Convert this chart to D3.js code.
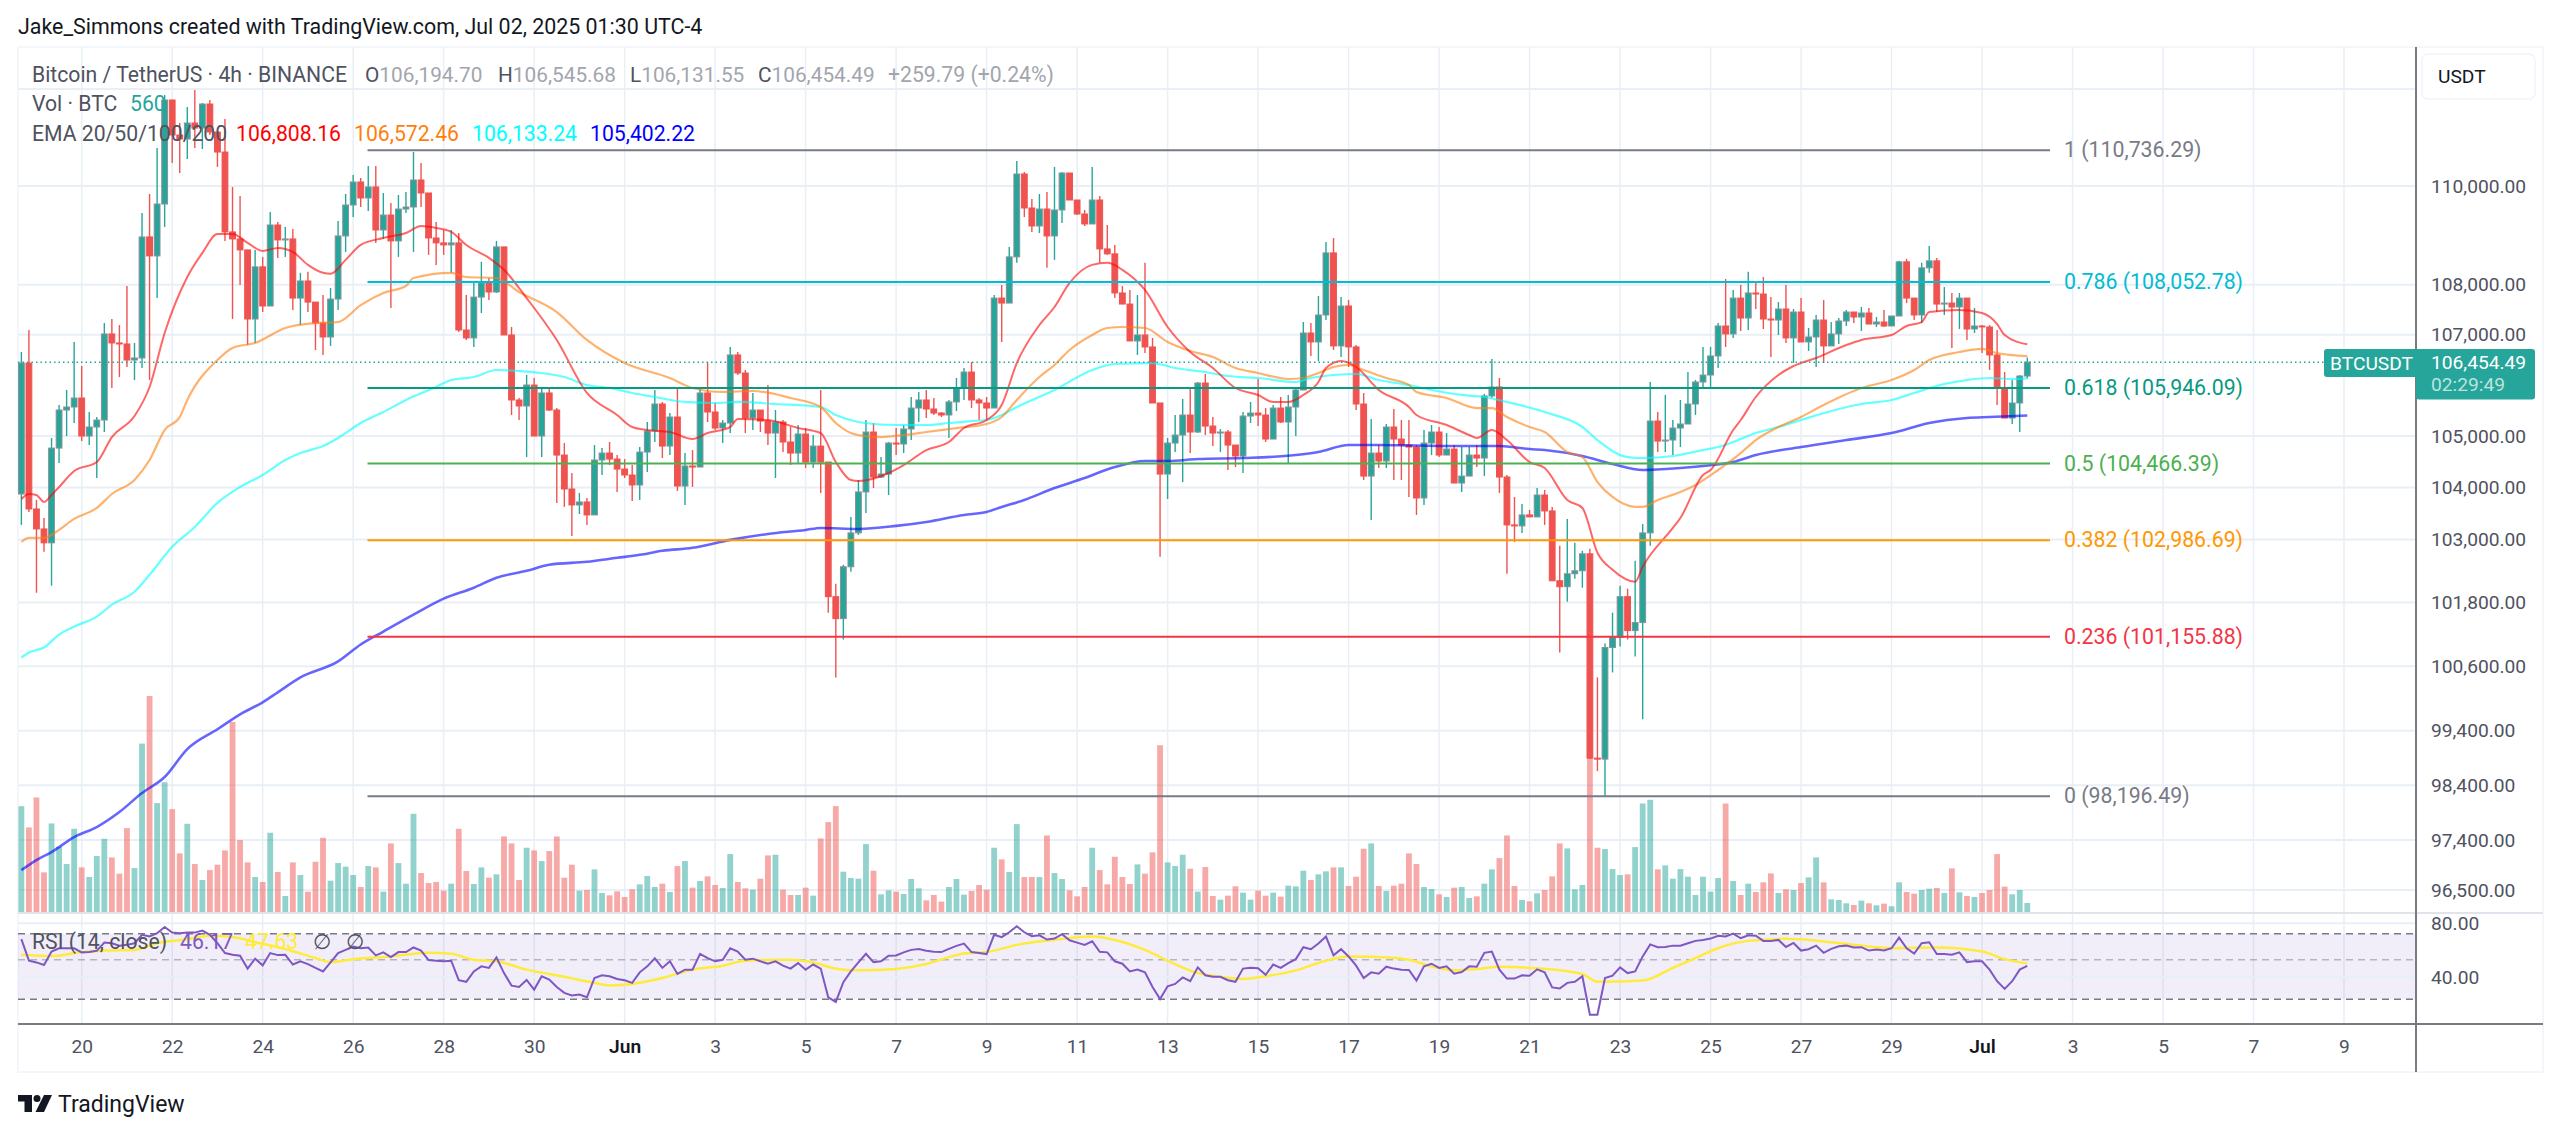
<!DOCTYPE html>
<html>
<head>
<meta charset="utf-8">
<title>BTCUSDT 4h</title>
<script src="https://cdn.jsdelivr.net/npm/d3@7"></script>
<style>
  html, body { margin: 0; padding: 0; background: #fff; }
  text { font-family: Roboto, "Noto Sans", sans-serif; }
</style>
</head>
<body>
<div id="chart"></div>
<script>
// 4h candles, first one sits 8 bars before May 20 00:00
var firstBar = -8;
var firstOpen = 103876;

var closes = [
  106437,103587,103203,102936,104767,105511,105570,105747,105002,105178,
  105315,107014,106835,106815,106497,106537,108963,108579,109632,111774,
  111048,110966,111296,111192,111690,111110,110697,109064,108922,108700,
  107312,108358,107572,109205,108902,108922,107731,108074,107651,107232,
  106954,107711,108983,109612,110082,109755,109980,109104,109408,108882,
  109530,109571,110123,109857,108942,108842,108801,108842,107093,106935,
  107751,108034,107853,108761,106994,105708,105590,106003,105002,105846,
  105511,104631,103972,103664,103722,103472,104534,104670,104553,104359,
  104243,104050,104689,105100,105629,104806,105374,104030,104418,104398,
  105846,105472,105158,105256,106597,106240,105354,105511,105295,105060,
  105276,104885,104670,105041,104495,104806,104495,101911,101496,102479,
  103127,103915,105080,104204,104262,104865,104846,105139,105550,105708,
  105531,105452,105413,105669,105944,106259,105708,105649,105550,107731,
  107631,108559,110246,109551,109185,109530,108983,109510,110266,109714,
  109429,109226,109714,108720,108620,107833,107611,106875,106994,106756,
  105649,104262,104865,105021,105413,105080,106042,105197,105060,105080,
  104826,104612,105393,105452,105413,104943,105550,105276,105570,105905,
  107033,106855,107392,108640,106776,107572,106756,105629,104223,104670,
  104515,105178,104943,104826,104787,103799,104865,105080,104631,104748,
  104088,104223,104631,104573,105787,105964,104204,103280,103261,103472,
  103434,103856,103549,102213,102100,102346,102403,102727,98896,98878,
  100952,101139,101911,101270,101421,103127,105295,104904,104924,105158,
  105237,105629,106062,106200,106577,107173,107014,107731,107332,107833,
  107812,107312,107292,107512,106935,107452,106855,106954,107292,106776,
  107014,107272,107452,107352,107432,107212,107252,107173,107372,108459,
  107731,107392,108338,108479,107611,107631,107552,107731,107113,107173,
  107153,106597,105944,105354,105649,106180,106454
];

var highs = [
  106656,107093,103760,103414,104963,105610,105905,106855,106378,105472,
  105374,107232,107312,107192,107973,106835,109449,109836,110780,111878,
  111774,111296,111628,111982,111711,111774,111110,111379,109980,109796,
  108700,108700,108559,109469,109266,109165,109124,108238,108258,107651,
  107792,107933,109287,109836,110225,110164,110410,110410,109857,109653,
  109816,109877,110697,110471,109857,109266,109104,109104,109043,107792,
  108054,108459,108134,108882,108761,107153,105747,106200,106141,105964,
  105964,105550,104865,104282,103895,103799,104826,104767,104885,104631,
  104553,104437,104787,105276,105905,105669,105452,105944,104670,104728,
  105944,106457,105649,105315,106756,106656,106299,105846,105511,106003,
  105511,105315,105178,105217,105158,105021,105905,104495,102156,102517,
  103434,104146,105315,105256,104592,104885,105158,105217,105767,105866,
  105905,105747,105472,105708,106141,106339,106457,105747,105767,107792,
  107993,108761,110512,110287,109734,109836,109877,110389,110287,110266,
  109714,109510,110389,109796,109205,108801,107973,107893,107792,108439,
  106935,105649,104963,105413,105728,105944,106062,106220,105374,105139,
  105119,104826,105472,105669,106121,105550,105610,105767,105807,105964,
  107252,107232,107771,108862,108942,107751,107691,106795,105846,105335,
  104826,105237,105531,105315,105315,104826,105119,105217,105178,105060,
  104826,104787,104787,104826,105826,106517,106141,104243,103818,103683,
  103568,103992,103953,103626,102879,103395,102936,102784,102822,100392,
  101027,101609,102119,102062,102593,103299,106062,105472,105807,105315,
  105708,106259,106101,106756,106756,107232,108114,107893,107993,108258,
  108054,108154,107751,107651,107993,107512,107731,107133,107392,107691,
  107252,107332,107492,107452,107552,107532,107352,107492,107372,108479,
  108519,107731,108439,108781,108539,107953,107833,107833,107731,107532,
  107192,107192,107093,106259,106101,106200,106545
];

var lows = [
  103280,103530,101986,102765,102119,104476,105002,105256,104904,104826,
  104185,105080,105944,106160,106358,106101,106339,106101,107731,109165,
  110471,110266,110553,110780,110759,111048,110389,108882,107312,107993,
  106795,106835,107452,107572,108539,108559,107492,107192,107452,106696,
  106597,106776,107492,108660,109367,109571,109490,108842,108922,107532,
  108559,109449,108660,109571,108600,108398,108600,108238,107053,106895,
  106756,107432,107691,107833,106994,105413,105315,104592,105002,104592,
  105491,103702,103626,103069,103491,103280,103472,104243,104437,103915,
  104185,103741,103760,104301,104885,104573,104631,103934,103664,104011,
  104398,105276,105119,104865,105060,106200,105060,105119,105080,104826,
  104185,104689,104437,104476,104379,104379,103895,101609,100392,101102,
  102384,103088,103510,103992,104185,103856,104631,104670,104924,105276,
  105354,105413,105374,104963,105491,105708,105550,105315,105315,105550,
  106855,107631,108439,109367,109064,109043,108338,108499,109246,109714,
  109408,109185,109246,108439,108600,107731,107611,106875,106597,106636,
  105649,102670,103779,104689,104107,104670,105060,105021,104806,104689,
  104340,104398,104282,105256,105197,104885,104943,105256,104476,105002,
  105905,106577,106477,107292,106696,106557,106358,105511,104146,103376,
  104379,104379,104146,104146,103818,103472,103664,104631,104592,104631,
  104088,103915,104223,104398,104223,105747,103895,102346,102955,103127,
  103434,103434,103280,102213,100858,101816,102251,102081,98878,98658,
  98196,100485,100970,101102,100783,99614,102879,104689,104689,104631,
  104787,105237,105413,105964,105964,106339,106756,106935,107073,107093,
  107512,107113,106557,106994,106835,106437,106855,106676,106358,106437,
  106795,106815,107173,107232,107073,107212,107153,107153,107173,107392,
  107631,107292,107232,108238,107452,107392,106736,107113,106895,107033,
  106636,106299,105610,105354,105237,105080,106131
];

var volumes = [
  6380,5100,6900,2400,5340,3940,2900,5020,2700,2120,
  3380,4420,3300,2320,5060,2660,10140,13000,6560,7820,
  6200,3540,5320,2900,1940,2540,2860,3720,11440,4340,
  3000,2120,1820,4780,2420,980,3000,2240,1240,3040,
  4480,1900,2960,2740,2240,1520,2780,2700,1240,4140,
  2960,1720,5920,2360,1760,1820,1300,1720,5020,2480,
  1700,2700,2080,2280,4560,4140,1940,3880,3720,3080,
  3680,4560,2080,2860,1300,1340,2580,1160,1020,1260,
  920,1380,1680,2180,1520,1720,1220,2780,3080,1480,
  1880,2160,1640,1460,3500,1820,1440,1360,2020,3420,
  3460,1360,1040,1040,1480,1000,4440,5420,6380,2440,
  2060,2020,4100,2500,1080,1320,1240,1100,2000,1440,
  720,1040,640,1520,2000,1060,1280,1640,1360,3880,
  3180,2420,5300,2120,2120,2120,4620,2360,2000,1320,
  960,1520,3880,2540,1680,3340,2120,1700,2880,2320,
  3600,10040,3000,2780,3460,2620,1240,2720,980,760,
  1000,1560,1180,760,1300,1000,1180,940,1600,1560,
  2500,1940,2280,2460,2700,2700,1580,2140,3820,4140,
  1580,1280,1600,1720,3540,2900,1520,1400,1080,920,
  1480,1520,860,960,1720,2580,3260,4620,1580,740,
  660,1140,1340,2160,4140,3840,1380,1640,9500,3880,
  3800,2600,2240,2280,3920,6540,6760,2580,2820,2020,
  2600,2140,1040,2140,1240,2060,6540,1880,1040,1720,
  1220,1800,2340,1160,1380,1340,1760,2100,3300,1800,
  780,740,540,440,700,540,420,520,360,1800,
  1220,1120,1340,1420,1460,1160,2640,1200,980,920,
  1160,1340,3500,1540,1080,1340,560
];

var rsiValues = [
  65.2,49.4,48.3,46.7,55.6,58,58,58,55,55.2,
  56.1,62.4,61.9,60,60.6,61.9,69,67.5,70.4,76.3,
  71,70.4,71,71,72.9,69,61.9,54.5,53.3,52.7,
  44.6,50.7,46.5,54.5,53.1,53.3,47,49,47.3,45,
  43,48.3,54.5,56.8,59.3,58,58.6,52.9,55,51.7,
  55.2,55.2,58.6,56.3,49.8,49.4,49,49.4,38.4,37.6,
  43,45.9,45,51.5,42.1,35.8,35.2,38.5,34,40.4,
  38.7,35.2,32.6,31.5,31.9,30.8,39.5,40.9,40.4,39,
  38.4,37.1,42.5,45.9,50.9,45,49,41.6,44,44,
  54,51.1,49,50,58,55.6,50,50.7,49,47.5,
  49,46.3,44.6,47.9,44,47,44.6,30.8,29,37.4,
  43,48.3,54,48.5,49,52.7,52.9,55,56.8,57.5,
  56.1,55.4,55.2,57.5,59.8,61.6,55.2,54.5,53.8,69,
  67,71.3,77,71.3,67.8,68.6,64.9,65.7,69.5,64.3,
  62.4,60.6,63.5,55.4,55,49,47.5,43,44,42.5,
  35.2,30.1,35.5,36.6,39.8,37.9,45.3,40.9,40.1,40.1,
  38.4,37.6,44.6,45.1,44.8,41.2,47,45,47.9,50.4,
  58.8,57.3,61.6,67.5,52.9,57.3,52.2,46.3,39.5,42.5,
  41.8,45.7,44.6,44,43.8,38.2,45.9,47.5,45,45.9,
  41.8,42.7,45.9,45.7,54.7,55.6,44,39.2,39.2,40.9,
  40.7,44.2,42.5,35,34.5,37.1,37.6,40.4,24.6,24.6,
  39.5,40.7,45.3,42.1,43,52.2,61,58.8,59,60,
  60,61.9,63.8,64.6,65.7,68.2,67.5,70.1,66,68.6,
  68.2,63.8,63.8,64.6,59,62.1,56.3,57.3,60,54.7,
  57.5,59.5,60,58.6,58.8,56.3,57,56.3,58,66.6,
  58,54.2,61.9,62.7,53.8,53.8,53.3,55,48.5,49.1,
  49,44,37.9,34.3,37.9,44,46.17
];

// smoothed lines were read at their bends, so each has its own bar list
var rsiMaBars = [-8,-4,0,3,7,10,14,17,20,23,27,31,33,36,41,46,49,52,55,59,64,68,70,73,77,81,85,88,94,97,100,102,
  103,108,112,115,117,120,124,129,134,137,141,144,148,151,154,157,161,165,168,174,176,179,182,185,188,193,199,201,207,211,214,217,218,221,226,230,235,240,246,252,255,258];
var rsiMa = [53.3,52.4,55.2,56.3,56.8,61.9,65.2,68.2,67,62.7,57.5,51.1,48.5,50.4,52.2,54.7,54,50,49,44,40.1,37.1,35.9,36.6,39.5,44,46.3,49.4,50,48.3,44.6,43.6,
  43.6,44.4,47.3,51.7,54.2,55.2,60.6,64.6,67.5,64.6,56.8,49.4,42.1,40.1,39,40.4,43.6,49.4,52.2,51.3,50,45.9,43.6,44.4,45.7,44.8,41.6,37.6,38.2,45,51.1,58,60,63.8,65.5,64,60.6,58,58.6,55.6,50.4,47.63];

var ema20Bars = [-8,-7,-6,-5,-4,-3,-1,2,4,7,9,11,14,16,18,20,22,24,26,28,30,32,33,35,37,40,43,45,47,49,51,54,56,59,63,67,71,73,75,78,81,83,86,87,91,95,98,100,102,103,107,109,112,115,117,120,122,124,127,129,131,134,136,138,141,144,147,150,153,156,158,160,162,164,165,167,169,172,176,177,181,184,185,187,189,192,194,197,199,201,203,206,207,211,212,215,216,219,220,222,225,227,230,234,236,240,242,244,245,249,252,254,255,258];
var ema20 = [103779,103876,103856,103722,103856,104011,104320,104495,104982,105393,105964,107033,108154,108640,109023,109023,108842,108680,108741,108660,108398,108238,108218,108499,108801,108942,109043,109185,109145,109064,108801,108539,108298,107731,106895,105846,105413,105178,105119,105080,104943,105060,105178,105335,105315,105158,105060,104495,104146,104127,104282,104437,104728,104885,105158,105315,105610,106437,107192,107552,108034,108398,108439,108298,107893,107153,106656,106339,105944,105807,105669,105669,105807,106062,106339,106477,106358,105905,105570,105413,105217,105021,104963,105119,104924,104495,104379,103760,103606,102746,102422,102194,102479,103222,103414,104243,104340,105119,105315,105767,106200,106378,106537,106795,106895,106994,107173,107252,107452,107492,107432,107212,106994,106808];

var ema50Bars = [-8,-7,-5,-4,-3,-1,2,4,7,9,11,13,14,18,20,23,27,31,34,37,40,43,44,49,51,55,58,63,67,72,78,81,85,89,94,98,100,102,103,106,109,112,116,120,122,124,127,129,131,134,136,138,141,144,147,150,153,156,160,162,164,166,168,170,173,176,177,181,185,187,189,192,194,197,199,201,203,206,207,209,212,214,217,220,222,225,228,231,236,240,243,245,249,252,254,258];
var ema50 = [102955,103031,103031,103088,103184,103395,103606,103876,104146,104534,105119,105374,105708,106497,106736,106835,107133,107232,107252,107591,107833,107973,108134,108238,108154,108134,107853,107452,106895,106437,106141,105944,105866,105885,105747,105570,105256,105060,105021,104982,105021,105080,105158,105237,105374,105708,106160,106398,106696,106994,107133,107153,107133,106855,106676,106557,106339,106240,106121,106141,106240,106358,106398,106299,106141,106003,105866,105747,105550,105550,105374,105178,105080,104689,104592,104107,103818,103626,103626,103760,103915,104050,104340,104670,104924,105178,105374,105610,105944,106101,106299,106497,106656,106716,106636,106572];

var ema100Bars = [-8,-7,-5,-3,-1,2,4,7,9,12,15,18,21,24,27,29,32,34,37,40,43,47,49,52,55,58,61,64,67,70,73,76,80,84,87,92,98,100,103,105,108,112,115,118,120,122,124,129,134,137,142,145,149,152,156,161,163,166,169,172,176,179,183,186,189,194,199,201,205,207,211,215,217,219,222,225,228,233,236,240,243,247,250,253,256,258];
var ema100 = [100764,100858,100952,101195,101346,101533,101760,102005,102327,102860,103241,103703,104011,104243,104534,104670,104806,104963,105256,105472,105708,105964,106101,106160,106299,106279,106240,106160,106003,105944,105846,105767,105669,105649,105669,105629,105570,105413,105276,105237,105217,105217,105256,105295,105315,105413,105570,105905,106299,106418,106437,106339,106259,106180,106141,106062,106141,106200,106220,106101,106003,105905,105807,105767,105669,105472,105178,104924,104592,104573,104612,104728,104787,104885,105060,105178,105315,105531,105629,105708,105846,106023,106101,106141,106121,106133];

var ema200Bars = [-8,-6,-4,-1,2,5,8,11,14,18,21,24,26,29,34,37,40,44,48,52,55,59,62,67,71,74,77,81,86,91,96,98,103,108,112,117,120,122,125,129,133,137,141,144,148,154,161,164,168,172,182,188,192,194,199,203,207,212,215,219,222,228,234,240,245,250,253,258];
var ema200 = [96858,97039,97183,97455,97637,97910,98256,98549,99062,99429,99706,99928,100113,100392,100690,101008,101252,101571,101873,102081,102270,102403,102517,102574,102650,102707,102784,102841,102993,103107,103184,103222,103203,103261,103337,103472,103530,103626,103760,103992,104185,104398,104515,104515,104553,104573,104631,104689,104826,104826,104806,104806,104748,104728,104612,104456,104340,104379,104418,104495,104631,104787,104924,105060,105256,105354,105374,105402];

var fibRatios = ['1', '0.786', '0.618', '0.5', '0.382', '0.236', '0'];
var fibPrices = [110736.29, 108052.78, 105946.09, 104466.39, 102986.69, 101155.88, 98196.49];
var fibColors = ['#787b86', '#00bcd4', '#089981', '#4caf50', '#ff9800', '#f23645', '#787b86'];

var priceTicks = [110000, 108000, 107000, 105000, 104000, 103000, 101800, 100600, 99400, 98400, 97400, 96500];
var rsiTicks = [80, 40];
var tickDates = ['2025-05-20','2025-05-22','2025-05-24','2025-05-26','2025-05-28','2025-05-30','2025-06-01','2025-06-03','2025-06-05','2025-06-07','2025-06-09','2025-06-11','2025-06-13','2025-06-15','2025-06-17','2025-06-19','2025-06-21','2025-06-23','2025-06-25','2025-06-27','2025-06-29','2025-07-01','2025-07-03','2025-07-05','2025-07-07','2025-07-09'];
var tickLabels = ['20','22','24','26','28','30','Jun','3','5','7','9','11','13','15','17','19','21','23','25','27','29','Jul','3','5','7','9'];

var lastPrice = 106454.49;

var UP = '#26a69a', DOWN = '#ef5350', GRID = '#e9eff6', AXIS = '#787b86', TEXT = '#131722';
var W = 2560, H = 1135;
var frame = {left: 18, right: 2543, top: 47, bottom: 1072, axis: 2416, pane: 913, rsiBottom: 1024};

var svg = d3.select('#chart').append('svg')
  .attr('width', W).attr('height', H)
  .style('display', 'block');

var barTime = function(k) { return Date.UTC(2025, 4, 20) + k * 4 * 3600 * 1000; };
var x = d3.scaleUtc()
  .domain([new Date('2025-05-20'), new Date('2025-07-09')])
  .range([81.7, 2344]);
var X = function(k) { return x(new Date(barTime(k))); };

var y = d3.scaleLog().domain([96500, 110000]).range([890, 186]);
var yVol = d3.scaleLinear().domain([0, 13000]).range([912.3, 696]);
var yRsi = d3.scaleLog().domain([30, 70]).range([999.3, 933.7]);

var opens = [firstOpen].concat(closes.slice(0, -1));
var bars = closes.map(function(c, i) {
  return {k: i + firstBar, o: opens[i], h: highs[i], l: lows[i], c: c, v: volumes[i], r: rsiValues[i]};
});
var isUp = function(d) { return d.c >= d.o; };

svg.append('defs').append('clipPath').attr('id', 'main')
  .append('rect')
  .attr('x', frame.left).attr('y', frame.top)
  .attr('width', frame.axis - frame.left).attr('height', frame.pane - frame.top);
svg.select('defs').append('clipPath').attr('id', 'rsi')
  .append('rect')
  .attr('x', frame.left).attr('y', frame.pane)
  .attr('width', frame.axis - frame.left).attr('height', frame.rsiBottom - frame.pane);

// frame
svg.append('rect')
  .attr('x', frame.left).attr('y', frame.top)
  .attr('width', frame.right - frame.left).attr('height', frame.bottom - frame.top)
  .attr('fill', '#fff').attr('stroke', '#f0f3fa').attr('stroke-width', 1.5);

// grid
var grid = svg.append('g').attr('stroke', GRID);
grid.selectAll('line.v').data(tickDates).enter().append('line')
  .attr('x1', function(d) { return x(new Date(d)); })
  .attr('x2', function(d) { return x(new Date(d)); })
  .attr('y1', frame.top).attr('y2', frame.rsiBottom)
  .attr('stroke-width', 1.5);
grid.selectAll('line.h').data(priceTicks.concat([112000])).enter().append('line')
  .attr('x1', frame.left).attr('x2', frame.axis)
  .attr('y1', function(d) { return y(d); })
  .attr('y2', function(d) { return y(d); })
  .attr('stroke-width', 2);

// volume
var main = svg.append('g').attr('clip-path', 'url(#main)');
main.selectAll('rect.vol').data(bars).enter().append('rect')
  .attr('class', 'vol')
  .attr('x', function(d) { return X(d.k) - 2.9; })
  .attr('width', 5.8)
  .attr('y', function(d) { return yVol(d.v); })
  .attr('height', function(d) { return yVol(0) - yVol(d.v); })
  .attr('fill', function(d) { return isUp(d) ? UP : DOWN; })
  .attr('opacity', 0.5);

// fib levels
var fib = svg.append('g');
fib.selectAll('line').data(fibPrices).enter().append('line')
  .attr('x1', 367.5).attr('x2', 2050)
  .attr('y1', function(d) { return y(d); })
  .attr('y2', function(d) { return y(d); })
  .attr('stroke', function(d, i) { return fibColors[i]; })
  .attr('stroke-width', 2);
fib.selectAll('text').data(fibPrices).enter().append('text')
  .attr('x', 2064)
  .attr('y', function(d) { return y(d) + 7; })
  .attr('fill', function(d, i) { return fibColors[i]; })
  .attr('font-size', 21.3)
  .text(function(d, i) { return fibRatios[i] + ' (' + d3.format(',.2f')(d) + ')'; });

// candles
main.selectAll('line.wick').data(bars).enter().append('line')
  .attr('class', 'wick')
  .attr('x1', function(d) { return X(d.k); })
  .attr('x2', function(d) { return X(d.k); })
  .attr('y1', function(d) { return y(d.h); })
  .attr('y2', function(d) { return y(d.l); })
  .attr('stroke', function(d) { return isUp(d) ? UP : DOWN; })
  .attr('stroke-width', 1.4);
main.selectAll('rect.body').data(bars).enter().append('rect')
  .attr('class', 'body')
  .attr('x', function(d) { return X(d.k) - 2.9; })
  .attr('width', 5.8)
  .attr('y', function(d) { return y(Math.max(d.o, d.c)); })
  .attr('height', function(d) { return Math.max(1, Math.abs(y(d.o) - y(d.c))); })
  .attr('fill', function(d) { return isUp(d) ? UP : DOWN; })
  .attr('stroke', function(d) { return isUp(d) ? '#8a9097' : DOWN; })
  .attr('stroke-width', 1);

// EMAs, width grows with the length as on the original
var emaLine = function(barList) {
  return d3.line()
    .x(function(d, i) { return X(barList[i]); })
    .y(function(d) { return y(d); })
    .curve(d3.curveMonotoneX);
};
var emaSeries = [
  {bars: ema200Bars, values: ema200, color: '#0000ff', width: 2.6},
  {bars: ema100Bars, values: ema100, color: '#00ffff', width: 2.2},
  {bars: ema50Bars, values: ema50, color: '#ff7f0e', width: 2.2},
  {bars: ema20Bars, values: ema20, color: '#ff0000', width: 2}
];
emaSeries.forEach(function(s) {
  main.append('path')
    .attr('d', emaLine(s.bars)(s.values))
    .attr('fill', 'none')
    .attr('stroke', s.color)
    .attr('stroke-opacity', 0.6)
    .attr('stroke-width', s.width);
});

// last price line
svg.append('line')
  .attr('x1', frame.left).attr('x2', 2324)
  .attr('y1', y(lastPrice)).attr('y2', y(lastPrice))
  .attr('stroke', UP).attr('stroke-width', 1.5)
  .attr('stroke-dasharray', '1.5 3');

// RSI pane
svg.append('line')
  .attr('x1', frame.left).attr('x2', frame.right)
  .attr('y1', frame.pane).attr('y2', frame.pane)
  .attr('stroke', '#e0e3eb').attr('stroke-width', 2);
svg.append('rect')
  .attr('x', frame.left).attr('width', frame.axis - frame.left)
  .attr('y', yRsi(70)).attr('height', yRsi(30) - yRsi(70))
  .attr('fill', '#7e57c2').attr('opacity', 0.1);
svg.selectAll('line.rsiGrid').data(rsiTicks).enter().append('line')
  .attr('x1', frame.left).attr('x2', frame.axis)
  .attr('y1', function(d) { return yRsi(d); })
  .attr('y2', function(d) { return yRsi(d); })
  .attr('stroke', GRID).attr('stroke-width', 2);
svg.selectAll('line.rsiBand').data([70, 50, 30]).enter().append('line')
  .attr('x1', frame.left).attr('x2', frame.axis)
  .attr('y1', function(d) { return yRsi(d); })
  .attr('y2', function(d) { return yRsi(d); })
  .attr('stroke', AXIS)
  .attr('stroke-opacity', function(d) { return d === 50 ? 0.5 : 1; })
  .attr('stroke-width', 1.5)
  .attr('stroke-dasharray', '7 5');

var rsiPane = svg.append('g').attr('clip-path', 'url(#rsi)');
rsiPane.append('path')
  .attr('d', d3.line()
    .x(function(d, i) { return X(rsiMaBars[i]); })
    .y(function(d) { return yRsi(d); })
    .curve(d3.curveMonotoneX)(rsiMa))
  .attr('fill', 'none').attr('stroke', '#ffeb3b').attr('stroke-width', 2.5);
rsiPane.append('path')
  .attr('d', d3.line()
    .x(function(d) { return X(d.k); })
    .y(function(d) { return yRsi(d.r); })(bars))
  .attr('fill', 'none').attr('stroke', '#7e57c2').attr('stroke-width', 2);

// axes
var priceAxis = svg.append('g')
  .attr('transform', 'translate(' + frame.axis + ',0)')
  .call(d3.axisRight(y).tickValues(priceTicks).tickSize(0).tickPadding(15).tickFormat(d3.format(',.2f')));
var rsiAxis = svg.append('g')
  .attr('transform', 'translate(' + frame.axis + ',0)')
  .call(d3.axisRight(yRsi).tickValues(rsiTicks).tickSize(0).tickPadding(15).tickFormat(d3.format('.2f')));
var timeAxis = svg.append('g')
  .attr('transform', 'translate(0,' + frame.rsiBottom + ')')
  .call(d3.axisBottom(x)
    .tickValues(tickDates.map(function(d) { return new Date(d); }))
    .tickSize(0).tickPadding(15)
    .tickFormat(function(d, i) { return tickLabels[i]; }));
[priceAxis, rsiAxis, timeAxis].forEach(function(a) {
  a.select('.domain').remove();
  a.selectAll('text')
    .attr('fill', '#4f5260')
    .style('font-family', 'Roboto, "Noto Sans", sans-serif')
    .style('font-size', '19.2px');
});
timeAxis.selectAll('text')
  .attr('font-weight', function(d, i) { return isNaN(+tickLabels[i]) ? 600 : 400; })
  .attr('fill', function(d, i) { return isNaN(+tickLabels[i]) ? TEXT : '#4f5260'; });

svg.append('line')
  .attr('x1', frame.left).attr('x2', frame.right)
  .attr('y1', frame.rsiBottom).attr('y2', frame.rsiBottom)
  .attr('stroke', AXIS).attr('stroke-width', 2);
svg.append('line')
  .attr('x1', frame.axis).attr('x2', frame.axis)
  .attr('y1', frame.top).attr('y2', frame.bottom)
  .attr('stroke', AXIS).attr('stroke-width', 2);

// last price tag
svg.append('rect').attr('x', 2324).attr('y', 349).attr('width', 96).attr('height', 28).attr('rx', 3).attr('fill', UP);
svg.append('rect').attr('x', frame.axis).attr('y', 349).attr('width', 119).attr('height', 50.5).attr('rx', 3).attr('fill', UP);
svg.append('text').attr('x', 2330).attr('y', 370).attr('fill', '#fff').attr('font-size', 19.2).text('BTCUSDT');
svg.append('text').attr('x', 2431).attr('y', 369).attr('fill', '#fff').attr('font-size', 19.2).text(d3.format(',.2f')(lastPrice));
svg.append('text').attr('x', 2431).attr('y', 391).attr('fill', '#fff').attr('fill-opacity', 0.7).attr('font-size', 19.2).text('02:29:49');

// currency button
svg.append('rect').attr('x', 2422).attr('y', 54).attr('width', 113).attr('height', 45).attr('rx', 6)
  .attr('fill', '#fff').attr('stroke', '#f0f3fa').attr('stroke-width', 1.5);
svg.append('text').attr('x', 2438).attr('y', 83).attr('fill', TEXT).attr('font-size', 19.2).text('USDT');

// legends
function label(str, px, py, color, size, weight) {
  return svg.append('text')
    .attr('x', px).attr('y', py)
    .attr('fill', color)
    .attr('font-size', size || 21.2)
    .attr('font-weight', weight || 400)
    .text(str);
}
var grey = '#a2a5ae', dark = '#4f5260';
label('Jake_Simmons created with TradingView.com, Jul 02, 2025 01:30 UTC-4', 18, 34, TEXT, 21.4);
label('Bitcoin / TetherUS · 4h · BINANCE', 32, 82, dark);
[['O', '106,194.70', 365], ['H', '106,545.68', 498], ['L', '106,131.55', 630], ['C', '106,454.49', 758]].forEach(function(o) {
  var t = label('', o[2], 82, dark, 20.8);
  t.append('tspan').text(o[0]);
  t.append('tspan').attr('fill', grey).text(o[1]);
});
label('+259.79 (+0.24%)', 888, 82, grey);
label('Vol · BTC', 32, 111, dark);
label('560', 130, 111, UP);
label('EMA 20/50/100/200', 32, 141, dark);
label('106,808.16', 236, 141, '#ff0000');
label('106,572.46', 354, 141, '#ff7f0e');
label('106,133.24', 472, 141, '#00ffff');
label('105,402.22', 590, 141, '#0000ff');
label('RSI (14, close)', 32, 949, dark);
label('46.17', 180, 949, '#7e57c2');
label('47.63', 245, 949, '#ffeb3b');
label('∅', 313, 949, dark);
label('∅', 346, 949, dark);

// logo
var logo = svg.append('g').attr('fill', TEXT);
logo.append('path').attr('d', 'M18 1095H32V1112H24.5V1101.5H18Z');
logo.append('circle').attr('cx', 37).attr('cy', 1098.5).attr('r', 3.5);
logo.append('path').attr('d', 'M44 1095H52L44 1112H35.5Z');
label('TradingView', 58, 1112, TEXT, 23);
</script>
</body>
</html>
